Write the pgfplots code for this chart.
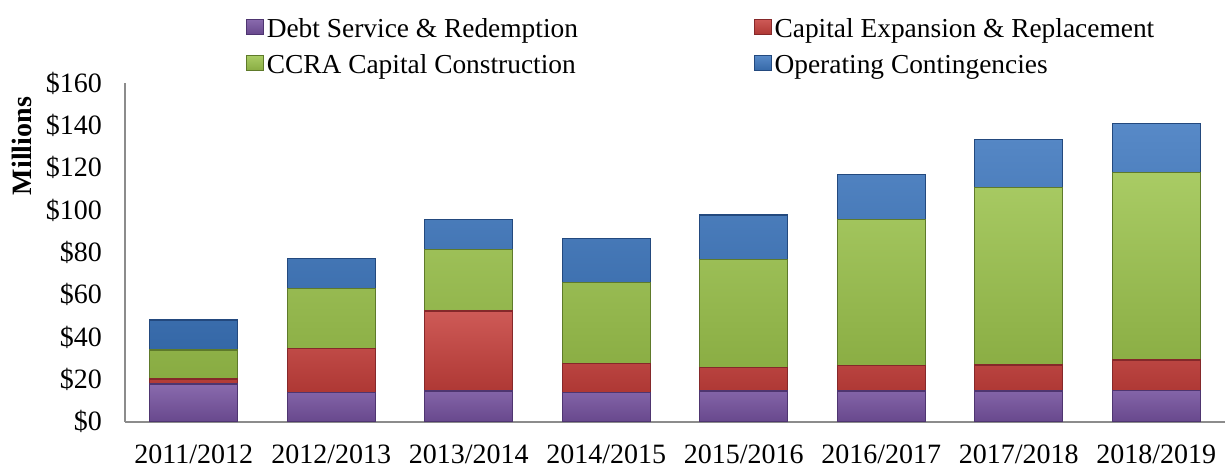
\documentclass[border=0pt]{standalone}
\usepackage{pgfplots}
\usepackage{pgfplotstable}
\pgfplotsset{compat=1.18}
\usepackage{fontspec}
\setmainfont{Liberation Serif}

\definecolor{pmain}{HTML}{7652A0}
\definecolor{pdark}{HTML}{4E3570}
\definecolor{rmain}{HTML}{C63F3B}
\definecolor{rdark}{HTML}{85282A}
\definecolor{gmain}{HTML}{9BC34B}
\definecolor{gdark}{HTML}{5E7A2A}
\definecolor{bmain}{HTML}{3C76BE}
\definecolor{bdark}{HTML}{23497E}

\pgfplotstableread{
x debt cap ccra op
0 17.8 2.4 13.7 14.2
1 13.9 20.8 28.4 14.2
2 14.5 37.8 29.2 14.2
3 13.9 13.7 38.3 20.8
4 14.5 11.2 51.1 20.9
5 14.5 12.1 69.0 21.3
6 14.5 12.3 83.8 22.9
7 14.7 14.5 88.5 23.4
}\datatable

\tikzset{
  bevel/.style args={#1/#2}{top color=#1!86!white, middle color=#1, bottom color=#1!88!black, draw=#2, line width=0.6bp},
}

\begin{document}
\begin{tikzpicture}
\useasboundingbox (-62.5bp,-24.15bp) rectangle (550bp,210.85bp);
\begin{axis}[
  scale only axis, width=550bp, height=169.2bp,
  ybar stacked, bar width=44bp,
  xmin=-0.5, xmax=7.5, ymin=0, ymax=160,
  xtick=data,
  xticklabels={2011/2012,2012/2013,2013/2014,2014/2015,2015/2016,2016/2017,2017/2018,2018/2019},
  ytick={0,20,...,160},
  yticklabels={\$0,\$20,\$40,\$60,\$80,\$100,\$120,\$140,\$160},
  axis x line*=bottom, axis y line*=left,
  axis line style={draw=black!45, line width=1.1bp},
  major tick length=0pt,
  tick label style={font=\fontsize{14bp}{16bp}\selectfont},
  yticklabel style={xshift=-8bp},
  xticklabel style={yshift=-8bp},
  ylabel={\textbf{Millions}},
  ylabel style={at={(axis description cs:-0.0936,0.98)}, anchor=east, font=\fontsize{14bp}{16bp}\selectfont},
  legend columns=2,
  legend cell align=left,
  legend style={at={(axis description cs:0.110,1.192)}, anchor=north west,
    draw=none, fill=none, inner sep=0pt, outer sep=0pt, row sep=7.2bp,
    /tikz/every even column/.append style={column sep=0pt},
    nodes={inner sep=0pt, font=\fontsize{13.7bp}{16bp}\selectfont}},
]
\addplot[bevel=pmain/pdark,
  legend image code/.code={\shade[bevel=pmain/pdark, line width=0.4bp] (0bp,-2.5bp) rectangle (8.5bp,5bp);}]
  table[x=x, y=debt]{\datatable};
\addlegendentry{\makebox[245bp][l]{\hspace{1.5bp}Debt Service \& Redemption}}
\addplot[bevel=rmain/rdark,
  legend image code/.code={\shade[bevel=rmain/rdark, line width=0.4bp] (0bp,-2.5bp) rectangle (8.5bp,5bp);}]
  table[x=x, y=cap]{\datatable};
\addlegendentry{\makebox[245bp][l]{\hspace{1.5bp}Capital Expansion \& Replacement}}
\addplot[bevel=gmain/gdark,
  legend image code/.code={\shade[bevel=gmain/gdark, line width=0.4bp] (0bp,-2.5bp) rectangle (8.5bp,5bp);}]
  table[x=x, y=ccra]{\datatable};
\addlegendentry{\makebox[245bp][l]{\hspace{1.5bp}CCRA Capital Construction}}
\addplot[bevel=bmain/bdark,
  legend image code/.code={\shade[bevel=bmain/bdark, line width=0.4bp] (0bp,-2.5bp) rectangle (8.5bp,5bp);}]
  table[x=x, y=op]{\datatable};
\addlegendentry{\makebox[245bp][l]{\hspace{1.5bp}Operating Contingencies}}
\end{axis}
\end{tikzpicture}
\end{document}
